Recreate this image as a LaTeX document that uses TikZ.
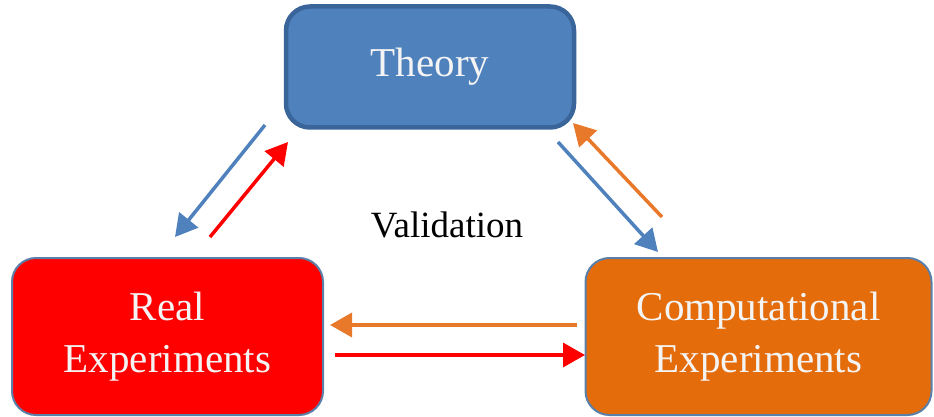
\documentclass[tikz,border=0pt]{standalone}
\usepackage{fontspec}
\setmainfont{Liberation Serif}
\usetikzlibrary{arrows.meta}
\definecolor{thblue}{HTML}{4F81BD}
\definecolor{thborder}{HTML}{3A659A}
\definecolor{boxedge}{HTML}{5A7FA8}
\definecolor{realred}{HTML}{FF0000}
\definecolor{comporange}{HTML}{E46C0A}
\definecolor{arrorange}{HTML}{E8782A}
\definecolor{txtwhite}{HTML}{F4F4F4}
\begin{document}
\begin{tikzpicture}[x=1pt,y=-1pt,
  box/.style={rectangle, rounded corners=24pt, align=center, text=txtwhite,
    font=\fontsize{41}{52}\selectfont, inner sep=0pt},
  arr/.style={line width=3.5pt, -{Triangle[length=22pt,width=24pt]}}]
\useasboundingbox (0,0) rectangle (934,417);
\node[box, fill=thblue, draw=thborder, line width=4.5pt,
  minimum width=288pt, minimum height=121pt] (theory) at (430,67) {\raisebox{-3pt}{Theory}};
\node[box, fill=realred, draw=boxedge, line width=2pt,
  minimum width=311pt, minimum height=157pt] (real) at (167.5,336.5) {Real\\Experiments};
\node[box, fill=comporange, draw=boxedge, line width=2pt,
  minimum width=346pt, minimum height=157pt] (comp) at (758.5,336.5) {Computational\\Experiments};
\node[font=\fontsize{37}{44}\selectfont] (valid) at (447,225) {Validation};
% arrow end points
\coordinate (a1s) at (265,125); \coordinate (a1e) at (175,237);
\coordinate (a2s) at (210,237); \coordinate (a2e) at (288,142);
\coordinate (a3s) at (558,142); \coordinate (a3e) at (658,252);
\coordinate (a4s) at (662,217); \coordinate (a4e) at (573,123);
\coordinate (a5s) at (577,325); \coordinate (a5e) at (330,325);
\coordinate (a6s) at (335,355); \coordinate (a6e) at (585,355);
\draw[arr, thblue] (a1s) -- (a1e);
\draw[arr, realred] (a2s) -- (a2e);
\draw[arr, thblue] (a3s) -- (a3e);
\draw[arr, arrorange] (a4s) -- (a4e);
\draw[arr, arrorange] (a5s) -- (a5e);
\draw[arr, realred] (a6s) -- (a6e);
\end{tikzpicture}
\end{document}
